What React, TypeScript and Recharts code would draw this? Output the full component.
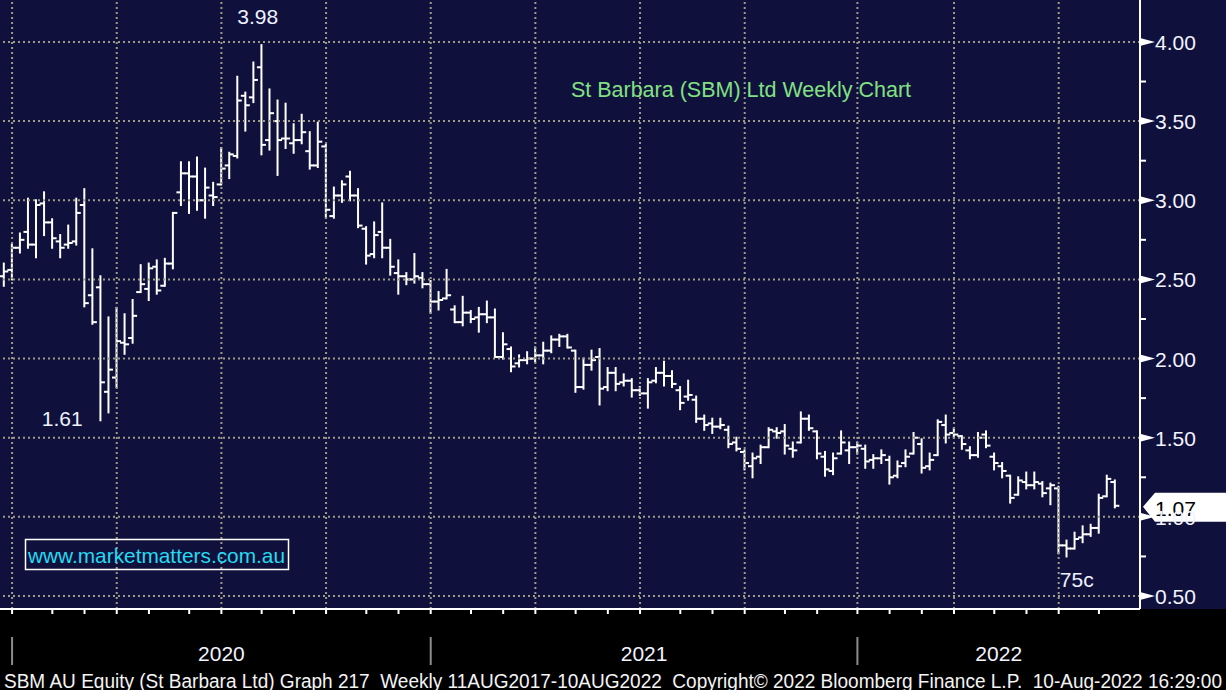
import React from "react";
import { ComposedChart, Bar, XAxis, YAxis, ReferenceLine, ReferenceDot } from "recharts";

// weekly OHLC, SBM AU, late Dec 2019 -> 10 Aug 2022
const opens = [
  2.52, 2.56, 2.7, 2.8, 2.72, 2.98, 2.86, 2.74, 2.72, 2.74,
  2.97, 2.4, 2.45, 1.79, 1.88, 2.1, 2.13, 2.42, 2.44, 2.58,
  2.46, 2.6, 3.05, 3.17, 3.15, 3.0, 3.03, 3.1, 3.22, 3.28,
  3.66, 3.65, 3.84, 3.38, 3.5, 3.39, 3.36, 3.38, 3.31, 3.22,
  3.34, 2.9, 3.03, 3.15, 3.03, 2.82, 2.66, 2.8, 2.7, 2.54,
  2.52, 2.5, 2.51, 2.47, 2.36, 2.38, 2.31, 2.23, 2.29, 2.26,
  2.28, 2.26, 2.01, 2.06, 1.97, 1.99, 2.0, 2.02, 2.05, 2.12,
  2.14, 2.05, 1.82, 1.96, 2.01, 1.82, 1.91, 1.85, 1.86, 1.8,
  1.78, 1.86, 1.91, 1.89, 1.8, 1.76, 1.74, 1.62, 1.59, 1.57,
  1.55, 1.47, 1.41, 1.32, 1.38, 1.44, 1.54, 1.54, 1.43, 1.47,
  1.62, 1.54, 1.38, 1.29, 1.4, 1.42, 1.44, 1.43, 1.36, 1.37,
  1.36, 1.26, 1.34, 1.4, 1.46, 1.32, 1.39, 1.58, 1.53, 1.51,
  1.42, 1.39, 1.52, 1.38, 1.32, 1.26, 1.14, 1.22, 1.2, 1.21,
  1.18, 1.18, 0.82, 0.8, 0.87, 0.89, 0.93, 1.13, 1.22,
];
const highs = [
  2.6, 2.72, 2.79, 3.01, 3.0, 3.05, 2.88, 2.78, 2.84, 3.01,
  3.07, 2.69, 2.52, 2.26, 2.32, 2.28, 2.37, 2.59, 2.6, 2.62,
  2.63, 2.92, 3.24, 3.24, 3.27, 3.2, 3.11, 3.33, 3.3, 3.78,
  3.68, 3.87, 3.98, 3.7, 3.63, 3.61, 3.48, 3.54, 3.43, 3.49,
  3.35, 3.08, 3.12, 3.18, 3.07, 2.83, 2.86, 2.98, 2.75, 2.62,
  2.54, 2.66, 2.54, 2.49, 2.42, 2.56, 2.33, 2.39, 2.3, 2.32,
  2.36, 2.31, 2.16, 2.07, 2.02, 2.04, 2.07, 2.1, 2.14, 2.15,
  2.15, 2.05, 2.0, 2.05, 2.06, 1.94, 1.94, 1.9, 1.87, 1.82,
  1.87, 1.94, 1.98, 1.92, 1.82, 1.86, 1.76, 1.64, 1.62, 1.62,
  1.57, 1.5, 1.42, 1.4, 1.45, 1.56, 1.56, 1.58, 1.47, 1.66,
  1.64, 1.54, 1.41, 1.4, 1.54, 1.47, 1.47, 1.45, 1.39, 1.42,
  1.38, 1.35, 1.42, 1.53, 1.49, 1.4, 1.61, 1.64, 1.56, 1.51,
  1.44, 1.53, 1.54, 1.4, 1.34, 1.26, 1.25, 1.28, 1.28, 1.22,
  1.21, 1.19, 0.85, 0.9, 0.94, 0.95, 1.14, 1.26, 1.23,
];
const lows = [
  2.46, 2.5, 2.67, 2.7, 2.64, 2.78, 2.7, 2.64, 2.7, 2.72,
  2.33, 2.22, 1.61, 1.66, 1.82, 2.03, 2.1, 2.42, 2.37, 2.41,
  2.46, 2.57, 2.97, 2.92, 2.94, 2.89, 2.97, 3.1, 3.14, 3.27,
  3.44, 3.62, 3.29, 3.32, 3.16, 3.33, 3.3, 3.36, 3.2, 3.21,
  2.89, 2.89, 2.99, 3.0, 2.83, 2.6, 2.64, 2.64, 2.53, 2.41,
  2.47, 2.48, 2.45, 2.29, 2.31, 2.38, 2.23, 2.21, 2.23, 2.17,
  2.23, 2.01, 2.0, 1.92, 1.95, 1.97, 1.98, 1.97, 2.04, 2.08,
  2.07, 1.79, 1.81, 1.93, 1.71, 1.8, 1.8, 1.83, 1.76, 1.77,
  1.69, 1.85, 1.83, 1.82, 1.68, 1.74, 1.6, 1.55, 1.53, 1.56,
  1.44, 1.42, 1.3, 1.25, 1.34, 1.44, 1.5, 1.4, 1.38, 1.47,
  1.55, 1.37, 1.26, 1.27, 1.4, 1.34, 1.4, 1.31, 1.31, 1.34,
  1.21, 1.25, 1.32, 1.4, 1.28, 1.3, 1.39, 1.47, 1.5, 1.43,
  1.37, 1.38, 1.44, 1.3, 1.25, 1.09, 1.14, 1.18, 1.18, 1.13,
  1.08, 0.77, 0.75, 0.8, 0.84, 0.88, 0.9, 1.13, 1.06,
];
const closes = [
  2.55, 2.7, 2.75, 2.72, 2.97, 2.86, 2.76, 2.7, 2.73, 2.92,
  2.35, 2.23, 1.85, 1.93, 2.11, 2.09, 2.27, 2.47, 2.57, 2.43,
  2.6, 2.92, 3.17, 3.15, 3.0, 3.08, 3.02, 3.2, 3.29, 3.63,
  3.6, 3.76, 3.35, 3.55, 3.38, 3.39, 3.38, 3.43, 3.22, 3.37,
  2.94, 3.03, 3.1, 3.03, 2.84, 2.65, 2.78, 2.7, 2.58, 2.52,
  2.5, 2.52, 2.47, 2.36, 2.37, 2.4, 2.23, 2.29, 2.25, 2.28,
  2.26, 2.01, 2.09, 1.95, 1.99, 2.0, 2.02, 2.05, 2.12, 2.14,
  2.07, 1.82, 1.96, 1.99, 1.81, 1.91, 1.84, 1.86, 1.8, 1.78,
  1.85, 1.91, 1.89, 1.84, 1.72, 1.77, 1.62, 1.58, 1.57, 1.58,
  1.46, 1.43, 1.34, 1.37, 1.44, 1.55, 1.53, 1.45, 1.42, 1.62,
  1.56, 1.4, 1.3, 1.37, 1.47, 1.44, 1.45, 1.35, 1.37, 1.39,
  1.25, 1.32, 1.38, 1.5, 1.31, 1.36, 1.6, 1.52, 1.52, 1.46,
  1.39, 1.5, 1.45, 1.34, 1.29, 1.12, 1.23, 1.2, 1.22, 1.15,
  1.2, 0.82, 0.8, 0.86, 0.89, 0.93, 1.12, 1.24, 1.07,
];

// axis ticks (week index of the bar where each month / quarter / year starts)
const priceTicks = [0.5, 0.75, 1, 1.25, 1.5, 1.75, 2, 2.25, 2.5, 2.75, 3, 3.25, 3.5, 3.75, 4];
const gridPrices = [0.5, 1, 1.5, 2, 2.5, 3, 3.5, 4];
const monthTicks = [1, 6, 10, 14, 18, 23, 27, 32, 36, 40, 45, 49, 53, 58, 62, 66, 71, 75, 79, 84, 88, 92, 97, 101, 106, 110, 114, 118, 123, 127, 131, 136];
const quarterGrid = [1, 14, 27, 40, 53, 66, 79, 92, 106, 118, 131];
const yearStarts = [1, 53, 106];
const yearLabels = ["2020", "2021", "2022"];

const callouts = [
  { i: 32, price: 3.98, text: "3.98", side: "top" },
  { i: 12, price: 1.61, text: "1.61", side: "left" },
  { i: 132, price: 0.75, text: "75c", side: "bottom" },
];

const X_MIN = -0.5;
const X_MAX = 141.1;
const FONT = "'Liberation Sans', Arial, sans-serif";
const NAVY = "#10103d";
const DOT = "#9c9b88";

const data = opens.map((o, i) => ({
  i,
  open: o,
  high: highs[i],
  low: lows[i],
  close: closes[i],
  range: [lows[i], highs[i]],
}));
const lastClose = closes[closes.length - 1];

const yearMids = yearStarts.map((s, k) => (s + (yearStarts[k + 1] ?? X_MAX)) / 2);

function OhlcShape(props: any) {
  const { x, y, width, height } = props;
  const p = props.payload ?? props;
  if (x == null || y == null) return null;
  const cx = x + width / 2;
  const top = Math.min(y, y + height);
  const bottom = Math.max(y, y + height);
  const span = p.high - p.low;
  const toY = (v: number) => (span > 0 ? top + ((p.high - v) / span) * (bottom - top) : top);
  const yo = toY(p.open);
  const yc = toY(p.close);
  return (
    <g stroke="#ffffff" strokeWidth={2}>
      <line x1={cx} x2={cx} y1={top - 1} y2={bottom + 1} />
      <line x1={cx - 4.5} x2={cx} y1={yo} y2={yo} />
      <line x1={cx} x2={cx + 4.5} y1={yc} y2={yc} />
    </g>
  );
}

function PriceTick(props: any) {
  const { x, y, payload } = props;
  const v = payload.value;
  const major = Math.abs(v * 2 - Math.round(v * 2)) < 1e-6;
  if (!major) {
    return <line x1={x} x2={x + 6} y1={y} y2={y} stroke="#ffffff" strokeWidth={2} />;
  }
  return (
    <g>
      <polygon points={`${x},${y - 4} ${x},${y + 4} ${x + 15},${y}`} fill="#ffffff" />
      <text x={x + 15} y={y + 8} fill="#f2f4ff" fontSize={21} fontFamily={FONT}>
        {v.toFixed(2)}
      </text>
    </g>
  );
}

function YearTick(props: any) {
  const { x, y, payload } = props;
  const v = payload.value;
  if (yearStarts.includes(v)) {
    return <line x1={x} x2={x} y1={y} y2={y + 28} stroke="#8c8c8c" strokeWidth={2} />;
  }
  const k = yearMids.indexOf(v);
  return (
    <text x={x} y={y + 24} textAnchor="middle" fill="#f2f4ff" fontSize={21} fontFamily={FONT}>
      {yearLabels[k]}
    </text>
  );
}

function CalloutLabel(props: any) {
  const { viewBox, value, side } = props;
  const cx = viewBox.x + (viewBox.width || 0) / 2;
  const cy = viewBox.y + (viewBox.height || 0) / 2;
  let tx = cx - 4;
  let ty = cy - 21;
  let anchor = "middle";
  if (side === "left") {
    tx = cx - 18;
    ty = cy + 6;
    anchor = "end";
  } else if (side === "bottom") {
    tx = cx + 10;
    ty = cy + 31;
  }
  return (
    <text x={tx} y={ty} textAnchor={anchor} fill="#eef2ff" fontSize={21} fontFamily={FONT}>
      {value}
    </text>
  );
}

function LastPriceLabel(props: any) {
  const { viewBox, value } = props;
  const r = viewBox.x + viewBox.width;
  const y = viewBox.y;
  return (
    <g>
      <polygon
        points={`${r + 3},${y + 1} ${r + 15},${y - 13} ${r + 86},${y - 13} ${r + 86},${y + 16} ${r + 15},${y + 16}`}
        fill="#ffffff"
      />
      <text x={r + 15} y={y + 10} fill="#000000" fontSize={21} fontFamily={FONT}>
        {value}
      </text>
    </g>
  );
}

export default function App() {
  return (
    <div style={{ position: "relative", width: 1226, height: 690, background: "#000000", overflow: "hidden" }}>
      <style>{"body{margin:0;background:#000}"}</style>
      <div style={{ position: "absolute", left: 0, top: 0, width: 1226, height: 609, background: NAVY }} />
      <div style={{ position: "absolute", left: 0, top: 0 }}>
        <ComposedChart width={1226} height={690} data={data} margin={{ top: 0, right: 0, bottom: 0, left: 0 }}>
          <XAxis
            dataKey="i"
            type="number"
            domain={[X_MIN, X_MAX]}
            allowDataOverflow
            ticks={monthTicks}
            interval={0}
            height={28}
            tickSize={5}
            tickLine={{ stroke: "#ffffff", strokeWidth: 2 }}
            axisLine={{ stroke: "#ffffff", strokeWidth: 2 }}
            tickFormatter={() => ""}
          />
          <XAxis
            xAxisId="yr"
            dataKey="i"
            type="number"
            domain={[X_MIN, X_MAX]}
            allowDataOverflow
            ticks={[...yearStarts, ...yearMids].sort((a, b) => a - b)}
            interval={0}
            height={53}
            tickSize={0}
            tickMargin={0}
            tickLine={false}
            axisLine={false}
            tick={<YearTick />}
          />
          <YAxis
            orientation="right"
            type="number"
            domain={[0.418, 4.265]}
            allowDataOverflow
            ticks={priceTicks}
            interval={0}
            width={86}
            tickSize={0}
            tickMargin={0}
            tickLine={false}
            axisLine={{ stroke: "#ffffff", strokeWidth: 2 }}
            tick={<PriceTick />}
          />
          {gridPrices.map((p) => (
            <ReferenceLine key={"h" + p} y={p} stroke={DOT} strokeWidth={2} strokeDasharray="2 3" />
          ))}
          {quarterGrid.map((q) => (
            <ReferenceLine key={"v" + q} x={q} stroke={DOT} strokeWidth={2} strokeDasharray="2 3" />
          ))}
          <Bar dataKey="range" shape={<OhlcShape />} isAnimationActive={false} />
          {callouts.map((c) => (
            <ReferenceDot
              key={c.text}
              x={c.i}
              y={c.price}
              r={0}
              stroke="none"
              fill="none"
              label={<CalloutLabel value={c.text} side={c.side} />}
            />
          ))}
          <ReferenceLine y={lastClose} stroke="none" label={<LastPriceLabel value={lastClose.toFixed(2)} />} />
        </ComposedChart>
      </div>
      <svg width={1226} height={690} style={{ position: "absolute", left: 0, top: 0, pointerEvents: "none" }}>
        <text x={741} y={97} textAnchor="middle" fill="#82e082" fontSize={21.5} fontFamily={FONT}>
          St Barbara (SBM) Ltd Weekly Chart
        </text>
        <rect x={25.5} y={539.5} width={263} height={30} fill="none" stroke="#ffffff" strokeWidth={1.5} />
        <text x={28} y={563} fill="#22dcf0" fontSize={21} fontFamily={FONT} textLength={257} lengthAdjust="spacingAndGlyphs">
          www.marketmatters.com.au
        </text>
        <text
          x={4}
          y={688}
          fill="#f4f4f4"
          fontSize={20}
          fontFamily={FONT}
          style={{ whiteSpace: "pre" }}
          textLength={1218}
          lengthAdjust="spacingAndGlyphs"
        >
          {"SBM AU Equity (St Barbara Ltd) Graph 217  Weekly 11AUG2017-10AUG2022  Copyright© 2022 Bloomberg Finance L.P.  10-Aug-2022 16:29:00"}
        </text>
      </svg>
    </div>
  );
}
